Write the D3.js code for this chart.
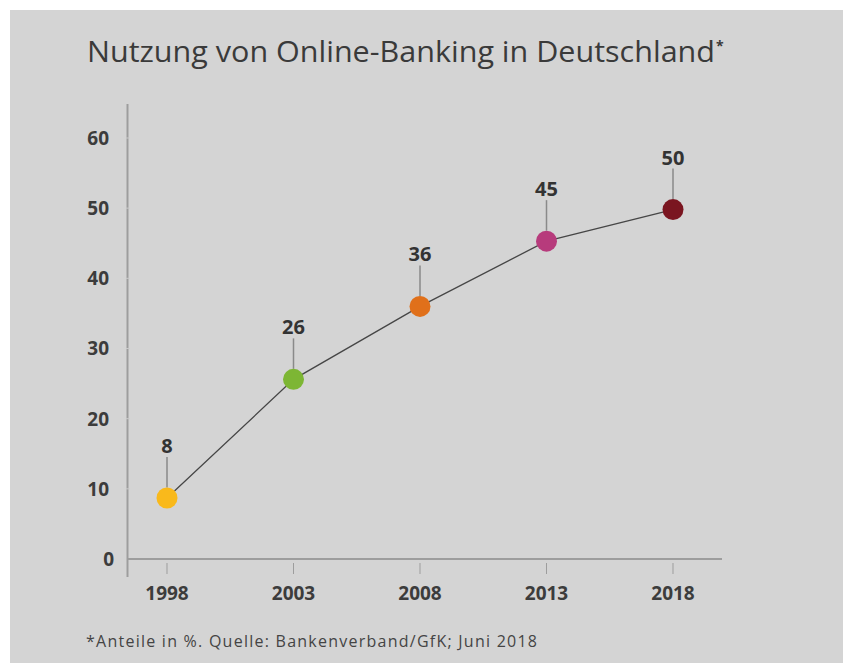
<!DOCTYPE html>
<html>
<head>
<meta charset="utf-8">
<script src="https://cdn.jsdelivr.net/npm/d3@7"></script>
<style>
	body { margin: 0; background: #fff; }
	svg { display: block; font-family: "Open Sans", "Noto Sans", sans-serif; }
</style>
</head>
<body>
<svg id="chart" width="843" height="663"></svg>
<script>
// data
const years = [1998, 2003, 2008, 2013, 2018];
const shares = [8.7, 25.6, 36.0, 45.3, 49.8];
const labels = ["8", "26", "36", "45", "50"];
const dotColors = ["#f9b91b", "#7db634", "#e0701a", "#b73b7c", "#7a1520"];
const yTicks = [0, 10, 20, 30, 40, 50, 60];

const svg = d3.select("#chart");
const width = +svg.attr("width");
const height = +svg.attr("height");

svg.append("rect")
	.attr("x", 10).attr("y", 10)
	.attr("width", width - 10).attr("height", height - 10)
	.attr("fill", "#d4d4d4");

// title
svg.append("text")
	.attr("x", 87).attr("y", 62)
	.attr("fill", "#3a3a3a")
	.style("font-size", "29px")
	.attr("textLength", 628)
	.attr("lengthAdjust", "spacingAndGlyphs")
	.text("Nutzung von Online-Banking in Deutschland");
svg.append("text")
	.attr("x", 716).attr("y", 51)
	.attr("fill", "#3a3a3a")
	.style("font-size", "14px")
	.style("font-weight", "bold")
	.text("*");

const x = d3.scalePoint().domain(years).range([167, 673]);
const y = d3.scaleLinear().domain([0, 60]).range([559, 138]);

// axes
const axisG = svg.append("g");
axisG.append("line")
	.attr("x1", 127.5).attr("x2", 127.5)
	.attr("y1", 104).attr("y2", 577)
	.attr("stroke", "#9d9d9d").attr("stroke-width", 2);
axisG.append("line")
	.attr("x1", 127).attr("x2", 722)
	.attr("y1", y(0)).attr("y2", y(0))
	.attr("stroke", "#9d9d9d").attr("stroke-width", 2);

// small light breaks in the y axis at the ticks
axisG.selectAll(".ybreak")
	.data(yTicks.filter(d => d > 0))
	.enter().append("line")
	.attr("class", "ybreak")
	.attr("x1", 126).attr("x2", 129.5)
	.attr("y1", d => y(d)).attr("y2", d => y(d))
	.attr("stroke", "#c9c9c9").attr("stroke-width", 1);

axisG.selectAll(".ylab")
	.data(yTicks)
	.enter().append("text")
	.attr("class", "ylab")
	.attr("x", d => d === 0 ? 114 : 109)
	.attr("y", d => y(d))
	.attr("dy", "0.36em")
	.attr("text-anchor", "end")
	.attr("fill", "#3c3c3c")
	.style("font-size", "19px")
	.style("font-weight", "bold")
	.text(d => d);

axisG.selectAll(".xtick")
	.data(years)
	.enter().append("line")
	.attr("class", "xtick")
	.attr("x1", d => x(d)).attr("x2", d => x(d))
	.attr("y1", 563).attr("y2", 574)
	.attr("stroke", "#9d9d9d").attr("stroke-width", 1);

axisG.selectAll(".xlab")
	.data(years)
	.enter().append("text")
	.attr("class", "xlab")
	.attr("x", d => x(d))
	.attr("y", 600)
	.attr("text-anchor", "middle")
	.attr("fill", "#3c3c3c")
	.style("font-size", "19px")
	.style("font-weight", "bold")
	.text(d => d);

const pts = years.map((yr, i) => ({year: yr, v: shares[i], label: labels[i], color: dotColors[i]}));

// line
svg.append("path")
	.datum(pts)
	.attr("fill", "none")
	.attr("stroke", "#464646")
	.attr("stroke-width", 1.3)
	.attr("d", d3.line().x(d => x(d.year)).y(d => y(d.v)));

const r = 10.5;
const ptG = svg.append("g").selectAll("g")
	.data(pts)
	.enter().append("g")
	.attr("transform", d => "translate(" + x(d.year) + "," + y(d.v) + ")");

ptG.append("line")
	.attr("x1", 0).attr("x2", 0)
	.attr("y1", -41).attr("y2", -r)
	.attr("stroke", "#8a8a8a").attr("stroke-width", 1.5);

ptG.append("circle")
	.attr("r", r)
	.attr("fill", d => d.color);

ptG.append("text")
	.attr("y", -45)
	.attr("text-anchor", "middle")
	.attr("fill", "#333")
	.style("font-size", "20px")
	.style("font-weight", "bold")
	.text(d => d.label);

// footnote
svg.append("text")
	.attr("x", 86).attr("y", 647)
	.attr("fill", "#444")
	.style("font-size", "16px")
	.attr("textLength", 451)
	.attr("lengthAdjust", "spacing")
	.text("*Anteile in %. Quelle: Bankenverband/GfK; Juni 2018");
</script>
</body>
</html>
